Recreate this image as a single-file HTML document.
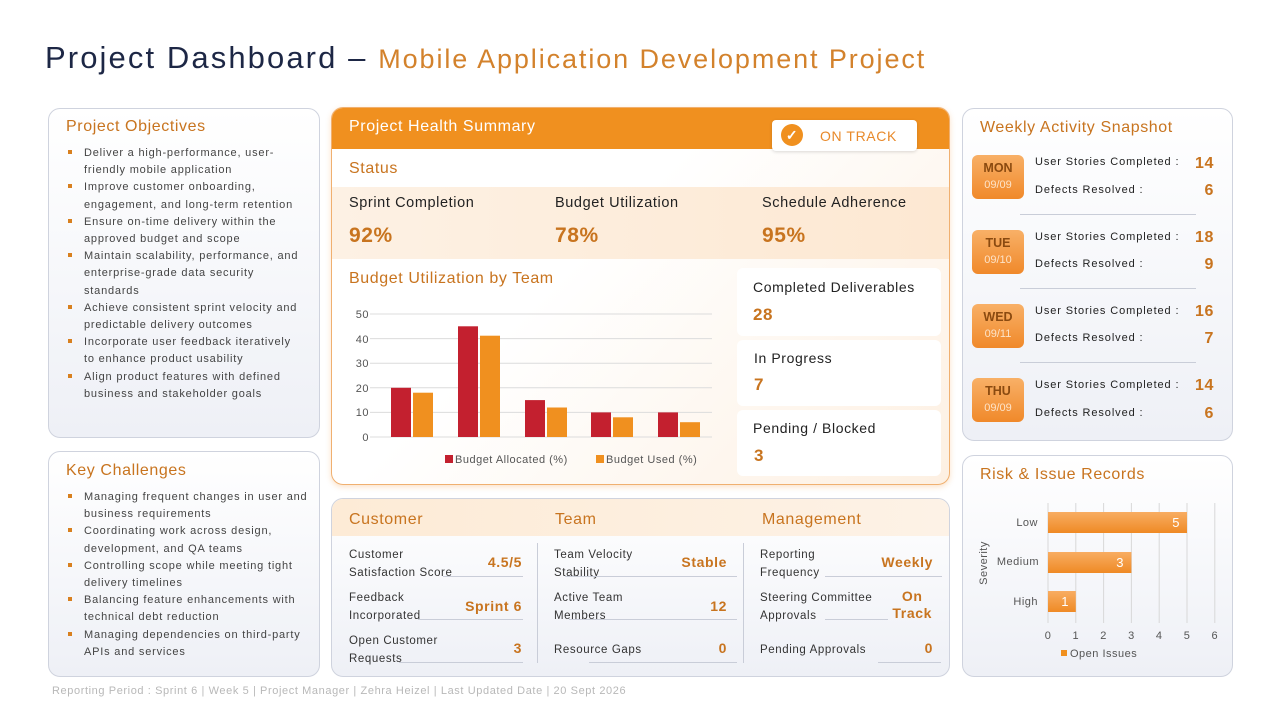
<!DOCTYPE html>
<html><head><meta charset="utf-8"><style>
*{margin:0;padding:0;box-sizing:border-box}
body{width:1280px;height:720px;background:#fff;font-family:"Liberation Sans",sans-serif;position:relative;overflow:hidden;color:#333;letter-spacing:0.6px}
.a{position:absolute;white-space:nowrap}
.card{position:absolute;border:1px solid #cfd3de;border-radius:12px;background:linear-gradient(#fff,#eef0f6)}
.h{color:#c8741f;font-size:16px}
.list{position:absolute;font-size:11px;line-height:17.2px;color:#444;letter-spacing:0.8px;white-space:nowrap}
.list div{position:relative}
.list div:before{content:"";position:absolute;left:-16px;top:5px;width:4px;height:4px;background:#d8801f}
.lbl{font-size:11.5px;color:#333;line-height:18px}
.val{color:#c8741f;font-weight:bold;font-size:14px}
.ln{position:absolute;height:1px;background:#c9cdd8}
.day{position:absolute;left:972px;width:52px;height:44px;border-radius:6px;background:linear-gradient(#f8b067,#f0892a);text-align:center;color:#fff;letter-spacing:0}
.day b{display:block;color:#8a4a10;font-size:12.5px;margin-top:6px}
.day span{font-size:11px;color:#fde3c8}
.wl{font-size:11px;color:#222;letter-spacing:0.9px}
.wv{font-size:16px;font-weight:bold;color:#c8741f;text-align:right;width:40px}
</style></head><body>
<div class="a" style="left:45px;top:40px;font-size:31px;color:#1d2745;letter-spacing:2.1px">Project Dashboard – <span style="color:#d3822c;font-size:27px;letter-spacing:1.9px">Mobile Application Development Project</span></div>

<div class="card" style="left:48px;top:108px;width:272px;height:330px"></div>
<div class="a h" style="left:66px;top:118px">Project Objectives</div>
<div class="list" style="left:84px;top:145px">
<div>Deliver a high-performance, user-<br>friendly mobile application</div>
<div>Improve customer onboarding,<br>engagement, and long-term retention</div>
<div>Ensure on-time delivery within the<br>approved budget and scope</div>
<div>Maintain scalability, performance, and<br>enterprise-grade data security<br>standards</div>
<div>Achieve consistent sprint velocity and<br>predictable delivery outcomes</div>
<div>Incorporate user feedback iteratively<br>to enhance product usability</div>
<div>Align product features with defined<br>business and stakeholder goals</div></div>

<div class="card" style="left:48px;top:451px;width:272px;height:226px"></div>
<div class="a h" style="left:66px;top:462px">Key Challenges</div>
<div class="list" style="left:84px;top:489px">
<div>Managing frequent changes in user and<br>business requirements</div>
<div>Coordinating work across design,<br>development, and QA teams</div>
<div>Controlling scope while meeting tight<br>delivery timelines</div>
<div>Balancing feature enhancements with<br>technical debt reduction</div>
<div>Managing dependencies on third-party<br>APIs and services</div></div>

<!-- health -->
<div style="position:absolute;left:331px;top:107px;width:619px;height:378px;border-radius:12px;border:1px solid #f0b070;background:linear-gradient(135deg,#fff 40%,#fdf0e2);overflow:hidden;box-shadow:0 2px 6px rgba(240,140,40,.25)">
<div style="height:41px;background:#f0901f"></div>
<div style="position:absolute;top:79px;left:0;right:0;height:72px;background:linear-gradient(90deg,#fdf1e4,#fde8d2)"></div>
</div>
<div class="a" style="left:349px;top:118px;color:#fff;font-size:16px">Project Health Summary</div>
<div class="a" style="left:772px;top:120px;width:145px;height:31px;background:#fff;border-radius:4px;box-shadow:0 1px 3px rgba(0,0,0,.15)">
<div style="position:absolute;left:9px;top:4px;width:22px;height:22px;border-radius:50%;background:#f0901f;color:#fff;font-size:14px;text-align:center;line-height:22px;font-weight:bold">✓</div>
<div style="position:absolute;left:48px;top:8px;color:#e8892a;font-size:14px">ON TRACK</div></div>
<div class="a h" style="left:349px;top:160px">Status</div>
<div class="a" style="left:349px;top:195px;font-size:14.5px;color:#222">Sprint Completion</div>
<div class="a" style="left:555px;top:195px;font-size:14.5px;color:#222">Budget Utilization</div>
<div class="a" style="left:762px;top:195px;font-size:14.5px;color:#222">Schedule Adherence</div>
<div class="a" style="left:349px;top:224px;font-size:21px;font-weight:bold;color:#c8741f">92%</div>
<div class="a" style="left:555px;top:224px;font-size:21px;font-weight:bold;color:#c8741f">78%</div>
<div class="a" style="left:762px;top:224px;font-size:21px;font-weight:bold;color:#c8741f">95%</div>
<div class="a h" style="left:349px;top:270px">Budget Utilization by Team</div>
<svg class="a" style="left:340px;top:300px;letter-spacing:0.5px" width="390" height="175" font-family="Liberation Sans" font-size="11" fill="#555">
<g stroke="#dcdcdc"><line x1="30" x2="372" y1="14" y2="14"/><line x1="30" x2="372" y1="38.6" y2="38.6"/><line x1="30" x2="372" y1="63.2" y2="63.2"/><line x1="30" x2="372" y1="87.8" y2="87.8"/><line x1="30" x2="372" y1="112.4" y2="112.4"/><line x1="30" x2="372" y1="137" y2="137"/></g>
<g text-anchor="end"><text x="29" y="18">50</text><text x="29" y="43">40</text><text x="29" y="67">30</text><text x="29" y="92">20</text><text x="29" y="116">10</text><text x="29" y="141">0</text></g>
<g fill="#c3202f"><rect x="51" y="87.8" width="20" height="49.2"/><rect x="118" y="26.3" width="20" height="110.7"/><rect x="185" y="100.1" width="20" height="36.9"/><rect x="251" y="112.4" width="20" height="24.6"/><rect x="318" y="112.4" width="20" height="24.6"/></g>
<g fill="#f0901f"><rect x="73" y="92.7" width="20" height="44.3"/><rect x="140" y="35.7" width="20" height="101.3"/><rect x="207" y="107.5" width="20" height="29.5"/><rect x="273" y="117.3" width="20" height="19.7"/><rect x="340" y="122.2" width="20" height="14.8"/></g>
<rect x="105" y="155" width="8" height="8" fill="#c3202f"/><text x="115" y="163">Budget Allocated (%)</text>
<rect x="256" y="155" width="8" height="8" fill="#f0901f"/><text x="266" y="163">Budget Used (%)</text>
</svg>
<div class="a" style="left:737px;top:268px;width:204px;height:68px;background:#fff;border-radius:6px"></div>
<div class="a" style="left:737px;top:340px;width:204px;height:66px;background:#fff;border-radius:6px"></div>
<div class="a" style="left:737px;top:410px;width:204px;height:66px;background:#fff;border-radius:6px"></div>
<div class="a" style="left:753px;top:279px;font-size:14px;color:#222">Completed Deliverables</div>
<div class="a" style="left:753px;top:305px;font-size:17px;font-weight:bold;color:#c8741f">28</div>
<div class="a" style="left:754px;top:350px;font-size:14px;color:#222">In Progress</div>
<div class="a" style="left:754px;top:375px;font-size:17px;font-weight:bold;color:#c8741f">7</div>
<div class="a" style="left:753px;top:420px;font-size:14px;color:#222">Pending / Blocked</div>
<div class="a" style="left:754px;top:446px;font-size:17px;font-weight:bold;color:#c8741f">3</div>

<!-- bottom center -->
<div class="card" style="left:331px;top:498px;width:619px;height:179px;overflow:hidden"><div style="height:37px;background:linear-gradient(90deg,#fdebd6,#fdf2e6)"></div></div>
<div class="a h" style="left:349px;top:511px">Customer</div>
<div class="a h" style="left:555px;top:511px">Team</div>
<div class="a h" style="left:762px;top:511px">Management</div>
<div class="a" style="left:537px;top:543px;width:1px;height:120px;background:#c9cdd8"></div>
<div class="a" style="left:743px;top:543px;width:1px;height:120px;background:#c9cdd8"></div>
<div class="a lbl" style="left:349px;top:546px">Customer<br>Satisfaction Score</div><div class="a val" style="right:758px;top:554px">4.5/5</div><div class="ln" style="left:443px;width:80px;top:576px"></div>
<div class="a lbl" style="left:349px;top:589px">Feedback<br>Incorporated</div><div class="a val" style="right:758px;top:598px">Sprint 6</div><div class="ln" style="left:418px;width:105px;top:619px"></div>
<div class="a lbl" style="left:349px;top:632px">Open Customer<br>Requests</div><div class="a val" style="right:758px;top:640px">3</div><div class="ln" style="left:399px;width:124px;top:662px"></div>
<div class="a lbl" style="left:554px;top:546px">Team Velocity<br>Stability</div><div class="a val" style="right:553px;top:554px">Stable</div><div class="ln" style="left:565px;width:172px;top:576px"></div>
<div class="a lbl" style="left:554px;top:589px">Active Team<br>Members</div><div class="a val" style="right:553px;top:598px">12</div><div class="ln" style="left:569px;width:168px;top:619px"></div>
<div class="a lbl" style="left:554px;top:641px">Resource Gaps</div><div class="a val" style="right:553px;top:640px">0</div><div class="ln" style="left:589px;width:148px;top:662px"></div>
<div class="a lbl" style="left:760px;top:546px">Reporting<br>Frequency</div><div class="a val" style="right:347px;top:554px">Weekly</div><div class="ln" style="left:825px;width:117px;top:576px"></div>
<div class="a lbl" style="left:760px;top:589px">Steering Committee<br>Approvals</div><div class="a val" style="right:348px;top:588px;text-align:center;line-height:17px">On<br>Track</div><div class="ln" style="left:825px;width:63px;top:619px"></div>
<div class="a lbl" style="left:760px;top:641px">Pending Approvals</div><div class="a val" style="right:347px;top:640px">0</div><div class="ln" style="left:878px;width:63px;top:662px"></div>

<div class="a" style="left:52px;top:685px;font-size:11px;color:#b8b8b8">Reporting Period : Sprint 6 | Week 5 | Project Manager | Zehra Heizel | Last Updated Date | 20 Sept 2026</div>

<!-- weekly -->
<div class="card" style="left:962px;top:108px;width:271px;height:333px"></div>
<div class="a h" style="left:980px;top:119px">Weekly Activity Snapshot</div>
<div class="day" style="top:155px"><b>MON</b><span>09/09</span></div>
<div class="day" style="top:230px"><b>TUE</b><span>09/10</span></div>
<div class="day" style="top:304px"><b>WED</b><span>09/11</span></div>
<div class="day" style="top:378px"><b>THU</b><span>09/09</span></div>
<div class="ln" style="left:1020px;width:176px;top:214px"></div>
<div class="ln" style="left:1020px;width:176px;top:288px"></div>
<div class="ln" style="left:1020px;width:176px;top:362px"></div>
<div class="a wl" style="left:1035px;top:156px">User Stories Completed :</div><div class="a wv" style="left:1174px;top:155px">14</div>
<div class="a wl" style="left:1035px;top:184px">Defects Resolved :</div><div class="a wv" style="left:1174px;top:182px">6</div>
<div class="a wl" style="left:1035px;top:231px">User Stories Completed :</div><div class="a wv" style="left:1174px;top:229px">18</div>
<div class="a wl" style="left:1035px;top:258px">Defects Resolved :</div><div class="a wv" style="left:1174px;top:256px">9</div>
<div class="a wl" style="left:1035px;top:305px">User Stories Completed :</div><div class="a wv" style="left:1174px;top:303px">16</div>
<div class="a wl" style="left:1035px;top:332px">Defects Resolved :</div><div class="a wv" style="left:1174px;top:330px">7</div>
<div class="a wl" style="left:1035px;top:379px">User Stories Completed :</div><div class="a wv" style="left:1174px;top:377px">14</div>
<div class="a wl" style="left:1035px;top:407px">Defects Resolved :</div><div class="a wv" style="left:1174px;top:405px">6</div>

<!-- risk -->
<div class="card" style="left:962px;top:455px;width:271px;height:222px"></div>
<div class="a h" style="left:980px;top:466px">Risk &amp; Issue Records</div>
<svg class="a" style="left:962px;top:495px;letter-spacing:0.5px" width="271" height="175" font-family="Liberation Sans" font-size="11" fill="#555">
<defs><linearGradient id="g" x1="0" y1="0" x2="0" y2="1"><stop offset="0" stop-color="#f8ad62"/><stop offset="1" stop-color="#ef8a25"/></linearGradient></defs>
<g stroke="#d8d8d8"><line x1="86" x2="86" y1="8" y2="128"/><line x1="113.8" x2="113.8" y1="8" y2="128"/><line x1="141.6" x2="141.6" y1="8" y2="128"/><line x1="169.4" x2="169.4" y1="8" y2="128"/><line x1="197.2" x2="197.2" y1="8" y2="128"/><line x1="225" x2="225" y1="8" y2="128"/><line x1="252.8" x2="252.8" y1="8" y2="128"/></g>
<rect x="86" y="17" width="139" height="21" fill="url(#g)"/><rect x="86" y="57" width="83.4" height="21" fill="url(#g)"/><rect x="86" y="96" width="27.8" height="21" fill="url(#g)"/>
<g fill="#fff" font-size="13" text-anchor="end"><text x="218" y="32">5</text><text x="162" y="72">3</text><text x="107" y="111">1</text></g>
<g text-anchor="end"><text x="76" y="31">Low</text><text x="77" y="70">Medium</text><text x="76" y="110">High</text></g>
<text transform="translate(25,68) rotate(-90)" text-anchor="middle">Severity</text>
<g text-anchor="middle"><text x="86" y="144">0</text><text x="113.8" y="144">1</text><text x="141.6" y="144">2</text><text x="169.4" y="144">3</text><text x="197.2" y="144">4</text><text x="225" y="144">5</text><text x="252.8" y="144">6</text></g>
<rect x="99" y="155" width="6" height="6" fill="#f0901f"/><text x="108" y="162">Open Issues</text>
</svg>
</body></html>
